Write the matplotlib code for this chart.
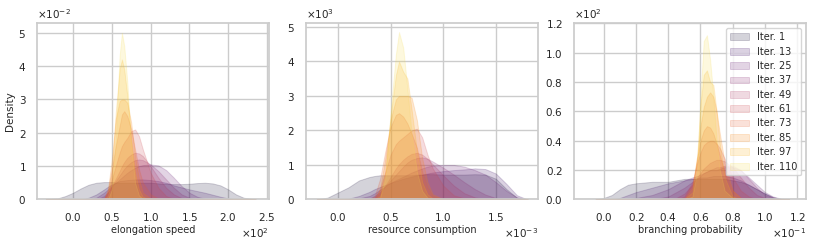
import matplotlib
matplotlib.use('Agg')
import matplotlib.pyplot as plt
from matplotlib.ticker import MultipleLocator
import numpy as np
import seaborn as sns

sns.set_theme(style="whitegrid")
plt.rcParams['font.family'] = ['DejaVu Sans']
plt.rcParams['xtick.labelsize'] = 7.5
plt.rcParams['ytick.labelsize'] = 7.5
plt.rcParams['axes.labelsize'] = 7
plt.rcParams['legend.fontsize'] = 7

iterations = [1, 13, 25, 37, 49, 61, 73, 85, 97, 110]
legend_labels = ["Iter. %d" % i for i in iterations]

# elongation speed, x in units of 1e2, density in units of 1e-2
speed_x = [-0.35, -0.2, -0.1, 0.0, 0.1, 0.2, 0.3, 0.4, 0.45, 0.5, 0.55, 0.6, 0.63, 0.66, 0.7, 0.75,
           0.8, 0.85, 0.9, 1.0, 1.1, 1.2, 1.3, 1.4, 1.5, 1.6, 1.7, 1.8, 1.9, 2.0, 2.1, 2.2, 2.35]
speed_dens = [
    [0, .03, .1, .2, .33, .44, .5, .52, .52, .52, .51, .5, .5, .5, .5, .5, .5, .5, .5, .5, .48, .47, .46, .46, .47, .49, .5, .48, .42, .3, .15, .05, 0],
    [0, 0, 0, 0, 0, .05, .15, .3, .38, .45, .5, .55, .56, .57, .58, .59, .6, .6, .6, .58, .55, .5, .42, .36, .3, .25, .2, .14, .08, .03, 0, 0, 0],
    [0, 0, 0, 0, 0, 0, .05, .2, .3, .42, .5, .6, .66, .72, .8, .88, .95, 1.0, 1.03, 1.05, 1.02, .88, .65, .4, .2, .08, .02, 0, 0, 0, 0, 0, 0],
    [0, 0, 0, 0, 0, 0, 0, .1, .22, .38, .55, .72, .82, .92, 1.02, 1.12, 1.18, 1.2, 1.18, 1.05, .85, .6, .35, .15, .05, 0, 0, 0, 0, 0, 0, 0, 0],
    [0, 0, 0, 0, 0, 0, 0, .05, .2, .4, .62, .85, 1.0, 1.12, 1.25, 1.35, 1.4, 1.38, 1.3, 1.0, .65, .35, .15, .04, 0, 0, 0, 0, 0, 0, 0, 0, 0],
    [0, 0, 0, 0, 0, 0, 0, 0, .2, .6, 1.0, 1.4, 1.6, 1.72, 1.85, 2.05, 2.1, 1.9, 1.5, .8, .35, .1, .02, 0, 0, 0, 0, 0, 0, 0, 0, 0, 0],
    [0, 0, 0, 0, 0, 0, 0, 0, .3, .9, 1.6, 2.2, 2.55, 2.65, 2.5, 2.1, 1.5, .9, .5, .15, .03, 0, 0, 0, 0, 0, 0, 0, 0, 0, 0, 0, 0],
    [0, 0, 0, 0, 0, 0, 0, 0, .3, 1.2, 2.4, 2.95, 3.0, 3.0, 2.9, 2.3, 1.3, .6, .2, .03, 0, 0, 0, 0, 0, 0, 0, 0, 0, 0, 0, 0, 0],
    [0, 0, 0, 0, 0, 0, 0, 0, .1, .8, 2.6, 3.9, 4.2, 3.9, 3.1, 1.8, .8, .3, .08, 0, 0, 0, 0, 0, 0, 0, 0, 0, 0, 0, 0, 0, 0],
    [0, 0, 0, 0, 0, 0, 0, 0, 0, .3, 1.8, 4.3, 5.0, 4.6, 3.5, 1.6, .5, .12, .02, 0, 0, 0, 0, 0, 0, 0, 0, 0, 0, 0, 0, 0, 0],
]

# resource consumption, x in units of 1e-3, density in units of 1e3
resource_x = [-0.2, -0.1, 0.0, 0.1, 0.2, 0.3, 0.35, 0.4, 0.45, 0.5, 0.55, 0.58, 0.62, 0.66, 0.7, 0.75,
              0.8, 0.85, 0.9, 1.0, 1.1, 1.2, 1.3, 1.4, 1.5, 1.6, 1.7, 1.8]
resource_dens = [
    [0, .05, .2, .35, .55, .65, .68, .7, .7, .7, .7, .7, .7, .7, .7, .72, .72, .73, .73, .72, .72, .72, .73, .72, .6, .3, .05, 0],
    [0, 0, 0, .02, .1, .22, .3, .36, .42, .48, .53, .56, .6, .63, .66, .7, .72, .75, .78, .82, .85, .87, .9, .88, .75, .45, .12, 0],
    [0, 0, 0, 0, .03, .1, .18, .28, .38, .48, .56, .6, .66, .72, .78, .84, .9, .95, .98, 1.0, 1.0, .95, .85, .72, .5, .25, .06, 0],
    [0, 0, 0, 0, 0, .03, .1, .22, .38, .55, .72, .82, .95, 1.07, 1.15, 1.2, 1.22, 1.18, 1.1, .92, .72, .5, .3, .14, .04, 0, 0, 0],
    [0, 0, 0, 0, 0, 0, .05, .18, .4, .65, .9, 1.02, 1.15, 1.25, 1.32, 1.35, 1.3, 1.18, 1.02, .7, .4, .18, .06, .01, 0, 0, 0, 0],
    [0, 0, 0, 0, 0, 0, .05, .3, .8, 1.3, 1.6, 1.7, 1.8, 1.9, 2.0, 2.05, 1.8, 1.3, .9, .4, .12, .03, 0, 0, 0, 0, 0, 0],
    [0, 0, 0, 0, 0, 0, .1, .6, 1.4, 2.1, 2.45, 2.5, 2.4, 2.2, 1.9, 1.5, .8, .35, .1, .01, 0, 0, 0, 0, 0, 0, 0, 0],
    [0, 0, 0, 0, 0, 0, 0, .3, 1.2, 2.3, 2.9, 3.0, 3.0, 3.0, 2.95, 2.3, 1.2, .5, .15, .01, 0, 0, 0, 0, 0, 0, 0, 0],
    [0, 0, 0, 0, 0, 0, 0, .1, .8, 2.4, 3.6, 4.0, 3.7, 3.5, 2.6, 1.4, .5, .15, .03, 0, 0, 0, 0, 0, 0, 0, 0, 0],
    [0, 0, 0, 0, 0, 0, 0, .05, .6, 2.5, 4.2, 4.85, 4.4, 3.2, 1.9, .8, .25, .05, 0, 0, 0, 0, 0, 0, 0, 0, 0, 0],
]

# branching probability, x in units of 1e-1, density in units of 1e2
branch_x = [-0.05, 0.0, 0.05, 0.1, 0.15, 0.2, 0.3, 0.4, 0.45, 0.5, 0.55, 0.58, 0.6, 0.62, 0.64, 0.66,
            0.68, 0.7, 0.72, 0.75, 0.8, 0.85, 0.9, 0.95, 1.0, 1.05, 1.1, 1.15]
branch_dens = [
    [0, .01, .03, .07, .1, .11, .12, .12, .13, .14, .14, .14, .14, .14, .14, .14, .14, .14, .14, .14, .13, .12, .1, .07, .04, .015, .003, 0],
    [0, 0, 0, .01, .03, .05, .08, .11, .12, .13, .14, .145, .15, .15, .15, .155, .16, .16, .16, .16, .15, .13, .1, .07, .04, .015, .003, 0],
    [0, 0, 0, 0, 0, .01, .03, .07, .1, .13, .15, .16, .17, .18, .19, .2, .2, .2, .21, .22, .22, .2, .15, .1, .05, .02, .005, 0],
    [0, 0, 0, 0, 0, 0, 0, .02, .05, .08, .12, .14, .16, .18, .19, .2, .21, .22, .22, .23, .23, .2, .14, .08, .03, .01, 0, 0],
    [0, 0, 0, 0, 0, 0, 0, 0, .01, .04, .1, .15, .18, .21, .23, .25, .26, .27, .27, .26, .22, .15, .08, .03, .01, 0, 0, 0],
    [0, 0, 0, 0, 0, 0, 0, 0, 0, .02, .12, .25, .32, .37, .39, .4, .4, .38, .35, .28, .15, .06, .02, 0, 0, 0, 0, 0],
    [0, 0, 0, 0, 0, 0, 0, 0, 0, .01, .1, .28, .4, .47, .5, .49, .45, .38, .3, .18, .06, .01, 0, 0, 0, 0, 0, 0],
    [0, 0, 0, 0, 0, 0, 0, 0, 0, 0, .08, .3, .5, .63, .7, .73, .7, .6, .45, .25, .06, .01, 0, 0, 0, 0, 0, 0],
    [0, 0, 0, 0, 0, 0, 0, 0, 0, 0, .05, .3, .65, .85, .88, .8, .78, .6, .38, .15, .02, 0, 0, 0, 0, 0, 0, 0],
    [0, 0, 0, 0, 0, 0, 0, 0, 0, 0, .02, .2, .7, 1.08, 1.12, .95, .7, .4, .2, .06, .01, 0, 0, 0, 0, 0, 0, 0],
]

panels = [
    ("elongation speed", speed_x, speed_dens, 1e2, 1e-2, (-46, 253), 0.0528, 50),
    ("resource consumption", resource_x, resource_dens, 1e-3, 1e3, (-0.303e-3, 1.9e-3), 5.1e3, 0.5e-3),
    ("branching probability", branch_x, branch_dens, 1e-1, 1e2, (-0.0185, 0.1255), 120, 0.02),
]

colors = sns.color_palette("inferno", len(iterations))

fig = plt.figure(figsize=(8.3, 2.42), dpi=100)
lefts = [0.045, 0.3687, 0.6916]
axes = [fig.add_axes([l, 0.176, 0.2795, 0.727]) for l in lefts]

for ax, (label, xs, dens, xscale, yscale, xlim, ytop, xstep) in zip(axes, panels):
    x = np.array(xs) * xscale
    for i in range(len(iterations)):
        y = np.array(dens[i]) * yscale
        ax.fill_between(x, y, 0, facecolor=colors[i], edgecolor=colors[i],
                        alpha=0.18, linewidth=0.7, label=legend_labels[i])
    ax.set_xlim(*xlim)
    ax.set_ylim(0, ytop)
    ax.xaxis.set_major_locator(MultipleLocator(xstep))
    ax.set_xlabel(label, labelpad=2)
    ax.ticklabel_format(style='sci', scilimits=(0, 0), useMathText=True)
    ax.tick_params(pad=2)

axes[0].set_ylabel("Density", fontsize=7.5)
axes[0].yaxis.set_label_coords(-0.095, 0.5)

axes[2].legend(loc='upper right', frameon=True, borderpad=0.4,
               labelspacing=0.45, handlelength=2.0)

plt.savefig("out.png", dpi=100)
